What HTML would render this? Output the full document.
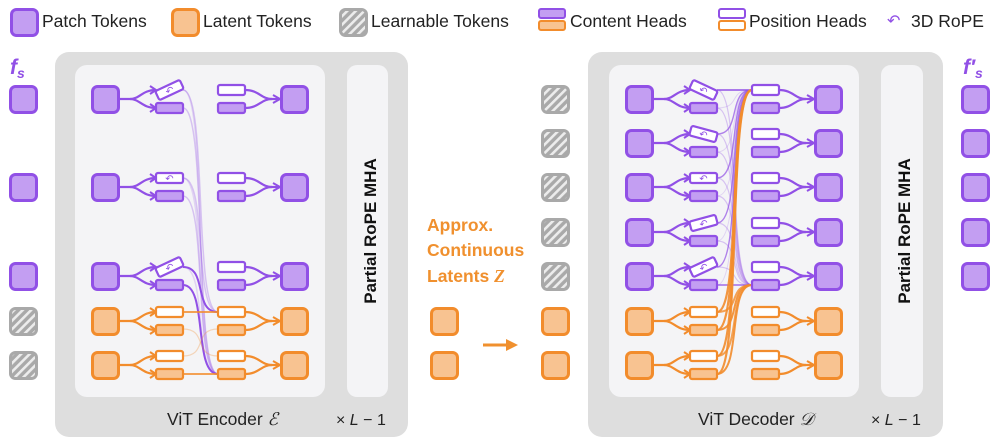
<!DOCTYPE html>
<html><head><meta charset="utf-8"><style>
html,body{margin:0;padding:0;background:#fff}
svg{display:block}
text{font-family:"Liberation Sans","DejaVu Sans",sans-serif}
</style></head><body>
<svg id="s" width="997" height="446" viewBox="0 0 997 446" xmlns="http://www.w3.org/2000/svg">
<defs>
<pattern id="hatch" width="6" height="6" patternUnits="userSpaceOnUse" patternTransform="rotate(45)">
<rect width="6" height="6" fill="#a9a9a9"/><rect width="2.6" height="6" fill="#ececec"/>
</pattern>
</defs>
<rect x="55" y="52" width="353" height="385" rx="14" fill="#dedede"/>
<rect x="75" y="65" width="250" height="332" rx="12" fill="#f4f4f6"/>
<rect x="347" y="65" width="41" height="332" rx="10" fill="#f4f4f6"/>
<rect x="588" y="52" width="355" height="385" rx="14" fill="#dedede"/>
<rect x="609" y="65" width="250" height="332" rx="12" fill="#f4f4f6"/>
<rect x="881" y="65" width="42" height="332" rx="10" fill="#f4f4f6"/>
<text transform="translate(376,231) rotate(-90)" text-anchor="middle" font-size="17" font-weight="bold" fill="#111">Partial RoPE MHA</text>
<text transform="translate(910,231) rotate(-90)" text-anchor="middle" font-size="17" font-weight="bold" fill="#111">Partial RoPE MHA</text>
<text x="167" y="425" font-size="17.5" fill="#222">ViT Encoder <tspan font-family="Liberation Serif,serif" font-style="italic">ℰ</tspan></text>
<text x="336" y="425" font-size="16" fill="#222" font-family="Liberation Serif,serif">× <tspan font-style="italic">L</tspan> − 1</text>
<text x="698" y="425" font-size="17.5" fill="#222">ViT Decoder <tspan font-family="Liberation Serif,serif" font-style="italic">𝒟</tspan></text>
<text x="871" y="425" font-size="16" fill="#222" font-family="Liberation Serif,serif">× <tspan font-style="italic">L</tspan> − 1</text>
<g id="g"></g>
<g font-size="17.5" fill="#222">
<text x="42" y="27">Patch Tokens</text>
<text x="203" y="27">Latent Tokens</text>
<text x="371" y="27">Learnable Tokens</text>
<text x="570" y="27">Content Heads</text>
<text x="749" y="27">Position Heads</text>
<text x="911" y="27">3D RoPE</text>
</g>
<text x="10" y="74" font-size="21" font-weight="bold" font-style="italic" fill="#9150e6" font-family="Liberation Serif,serif">f<tspan font-size="14" dy="4">s</tspan></text>
<text x="963" y="74" font-size="21" font-weight="bold" font-style="italic" fill="#9150e6" font-family="Liberation Serif,serif">f′<tspan font-size="14" dy="4">s</tspan></text>
<g font-size="17.5" font-weight="bold" fill="#f0902e">
<text x="427" y="231">Approx.</text>
<text x="427" y="256">Continuous</text>
<text x="427" y="282">Latents <tspan font-family="Liberation Serif,serif" font-style="italic">Z</tspan></text>
</g>
<line x1="483" y1="345" x2="510" y2="345" stroke="#f0902e" stroke-width="3"/>
<path d="M506 339 L518 345 L506 351 Z" fill="#f0902e"/>
</svg>
<script>
var NS="http://www.w3.org/2000/svg",g=document.getElementById('g');
var P={s:'#9150e6',f:'#c39ef2'},O={s:'#f28c2c',f:'#f8c391'};
function el(t,a){var e=document.createElementNS(NS,t);for(var k in a)e.setAttribute(k,a[k]);g.appendChild(e);return e;}
function sq(x,y,c){el('rect',{x:x+1.5,y:y+1.5,width:26,height:26,rx:5,fill:c.f,stroke:c.s,'stroke-width':3});}
function hatch(x,y){el('rect',{x:x+1.5,y:y+1.5,width:26,height:26,rx:5,fill:'url(#hatch)',stroke:'#a9a9a9','stroke-width':3});}
function head(x,cy,c,filled,rot,rope){var r=el('rect',{x:x,y:cy-5,width:27,height:10,rx:2,fill:filled?c.f:'#fff',stroke:c.s,'stroke-width':2.2});
 if(rot)r.setAttribute('transform','rotate('+rot+' '+(x+13.5)+' '+cy+')');
 if(rope){var t=el('text',{x:x+13.5,y:cy+4,'font-size':10,'text-anchor':'middle',fill:c.s});t.textContent='↶';if(rot)t.setAttribute('transform','rotate('+rot+' '+(x+13.5)+' '+cy+')');}}
function path(d,c,w,o){el('path',{d:d,fill:'none',stroke:c,'stroke-width':w,'stroke-opacity':o||1});}
function fork(x1,y,x2,y1,y2,c){
 path('M'+x1+' '+y+' H'+(x1+10)+' C'+(x1+20)+' '+y+' '+(x1+22)+' '+y1+' '+x2+' '+y1,c,2.2);
 path('M'+(x1+10)+' '+y+' C'+(x1+20)+' '+y+' '+(x1+22)+' '+y2+' '+x2+' '+y2,c,2.2);
 path('M'+(x2-6)+' '+(y1-4)+' L'+x2+' '+y1+' L'+(x2-6)+' '+(y1+4),c,2);
 path('M'+(x2-6)+' '+(y2-4)+' L'+x2+' '+y2+' L'+(x2-6)+' '+(y2+4),c,2);}
function merge(x1,y1,y2,x2,y,c){
 path('M'+x1+' '+y1+' C'+(x1+14)+' '+y1+' '+(x1+16)+' '+y+' '+(x2-8)+' '+y,c,2.2);
 path('M'+x1+' '+y2+' C'+(x1+14)+' '+y2+' '+(x1+16)+' '+y+' '+(x2-8)+' '+y,c,2.2);
 path('M'+(x2-8)+' '+y+' H'+x2,c,2.2);
 path('M'+(x2-7)+' '+(y-4)+' L'+x2+' '+y+' L'+(x2-7)+' '+(y+4),c,2);}
function curve(x1,y1,x2,y2,c,w,o){path('M'+x1+' '+y1+' C'+(x1+25)+' '+y1+' '+(x2-25)+' '+y2+' '+x2+' '+y2,c,w,o);}
sq(10,8,P);sq(171,8,O);hatch(339,8);
el('rect',{x:539,y:9,width:26,height:9,rx:2,fill:P.f,stroke:P.s,'stroke-width':2});
el('rect',{x:539,y:21,width:26,height:9,rx:2,fill:O.f,stroke:O.s,'stroke-width':2});
el('rect',{x:719,y:9,width:26,height:9,rx:2,fill:'#fff',stroke:P.s,'stroke-width':2});
el('rect',{x:719,y:21,width:26,height:9,rx:2,fill:'#fff',stroke:O.s,'stroke-width':2});
var t=el('text',{x:887,y:26,'font-size':16,fill:P.s});t.textContent='↶';
[85,173,262].forEach(function(y){sq(9,y,P);});hatch(9,307);hatch(9,351);
[85,129,173,218,262].forEach(function(y){sq(961,y,P);hatch(541,y);});
sq(430,307,O);sq(430,351,O);sq(541,307,O);sq(541,351,O);
var er=[[85,P,-25,1],[173,P,0,1],[262,P,-25,1],[307,O,0,0],[351,O,0,0]];
var tgtA=[218,312],tgtB=[218,374];
er.forEach(function(r,i){var y=r[0];
 if(r[1]===P){curve(183,y+5,tgtA[0],tgtA[1],P.s,i==2?2:1.5,i==2?1:0.3);curve(183,y+23,tgtB[0],tgtB[1],P.s,i==2?2:1.5,i==2?1:0.3);
  curve(183,y+5,tgtB[0],tgtB[1],P.s,1.5,0.2);}
});
curve(183,312,218,312,O.s,2,0.8);curve(183,374,218,374,O.s,2,0.8);
curve(183,329,218,356,O.s,1.2,0.3);curve(183,356,218,329,O.s,1.2,0.3);
er.forEach(function(r){var y=r[0],c=r[1];
 sq(91,y,c);sq(280,y,c);
 fork(120,y+14,156,y+5,y+23,c.s);
 head(156,y+5,c,false,r[2],r[3]);head(156,y+23,c,true,0,0);
 head(218,y+5,c,false,0,0);head(218,y+23,c,true,0,0);
 merge(245,y+5,y+23,280,y+14,c.s);});
var dr=[[85,P,25,1],[129,P,15,1],[173,P,0,1],[218,P,-15,1],[262,P,-25,1],[307,O,0,0],[351,O,0,0]];
var A=[752,90],B=[752,285];
dr.forEach(function(r,i){var y=r[0],c=r[1];
 if(c===P){curve(717,y+5,A[0],A[1],P.s,1.4,i==0?1:0.7);curve(717,y+5,B[0],B[1],P.s,1.2,0.3);curve(717,y+23,B[0],B[1],P.s,1.2,i==4?1:0.3);curve(717,y+23,A[0],A[1],P.s,1,0.2);}
 else{curve(717,y+5,A[0],A[1],O.s,2.2,0.9);curve(717,y+23,A[0],A[1],O.s,2.2,0.9);curve(717,y+5,B[0],B[1],O.s,2,0.8);curve(717,y+23,B[0],B[1],O.s,2,0.9);}
});
dr.forEach(function(r){var y=r[0],c=r[1];
 sq(625,y,c);sq(814,y,c);
 fork(654,y+14,690,y+5,y+23,c.s);
 head(690,y+5,c,false,r[2],r[3]);head(690,y+23,c,true,0,0);
 head(752,y+5,c,false,0,0);head(752,y+23,c,true,0,0);
 merge(779,y+5,y+23,814,y+14,c.s);});
</script>
</body></html>
